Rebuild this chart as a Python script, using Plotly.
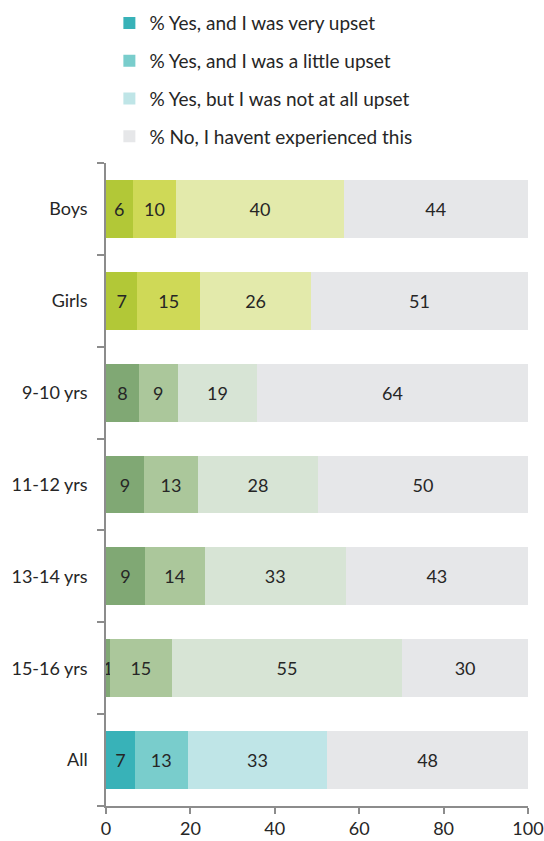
import plotly.graph_objects as go

# categories listed bottom -> top
categories = ["All", "15-16 yrs", "13-14 yrs", "11-12 yrs", "9-10 yrs", "Girls", "Boys"]
very_upset = [6.8, 0.9, 9.2, 9.0, 7.8, 7.4, 6.3]
little_upset = [12.6, 14.7, 14.2, 12.8, 9.2, 14.9, 10.4]
not_upset = [33.0, 54.6, 33.4, 28.4, 18.8, 26.3, 39.6]
not_experienced = [47.6, 29.8, 43.2, 49.8, 64.2, 51.4, 43.7]
series_names = ["% Yes, and I was very upset", "% Yes, and I was a little upset",
                "% Yes, but I was not at all upset", "% No, I havent experienced this"]
x_ticks = [0, 20, 40, 60, 80, 100]

teal = ["#38b2b8", "#79cdcc", "#bfe5e7", "#e6e7e9"]
age = ["#80a874", "#abc79b", "#d7e4d5", "#e6e7e9"]
gender = ["#b2c837", "#cfd957", "#e3eaab", "#e6e7e9"]
group_palette = [teal, age, age, age, age, gender, gender]

FONT = "Lato, Open Sans, sans-serif"
fig = go.Figure()
for i, (name, vals) in enumerate(zip(series_names,
                                     [very_upset, little_upset, not_upset, not_experienced])):
    fig.add_trace(go.Bar(
        y=categories, x=vals, name=name, orientation="h",
        marker=dict(color=[p[i] for p in group_palette], line=dict(width=0)),
        text=vals, texttemplate="%{x:.0f}", textposition="inside",
        insidetextanchor="middle", constraintext="none",
        textfont=dict(family=FONT, size=18, color="#262626"),
        legendgroup=str(i), hoverinfo="x+y+name",
    ))

fig.update_layout(
    barmode="stack", bargap=0.37,
    width=544, height=841,
    margin=dict(l=106, r=16, t=163, b=35, autoexpand=False),
    paper_bgcolor="white", plot_bgcolor="white",
    font=dict(family=FONT, size=18, color="#262626"),
    legend=dict(x=0.008, xanchor="left", y=0.995, yanchor="top", yref="container",
                traceorder="grouped", tracegroupgap=10,
                font=dict(family=FONT, size=19, color="#262626"),
                bgcolor="rgba(0,0,0,0)"),
    showlegend=True,
)
fig.update_xaxes(range=[0, 100], tickvals=x_ticks, showgrid=False, zeroline=False,
                 showline=True, linecolor="#8c8c8c", linewidth=1.5, automargin=False,
                 ticks="outside", ticklen=6, tickcolor="#8c8c8c", tickwidth=1.5,
                 tickfont=dict(size=18))
fig.update_yaxes(type="category", categoryorder="array", categoryarray=categories,
                 showgrid=False, showline=True, linecolor="#8c8c8c", linewidth=1.5,
                 automargin=False,
                 ticks="outside", ticklen=7, tickcolor="#8c8c8c", tickwidth=1.5,
                 tickson="boundaries", ticklabelstandoff=13,
                 tickfont=dict(size=18))

fig.write_html("out.html")
